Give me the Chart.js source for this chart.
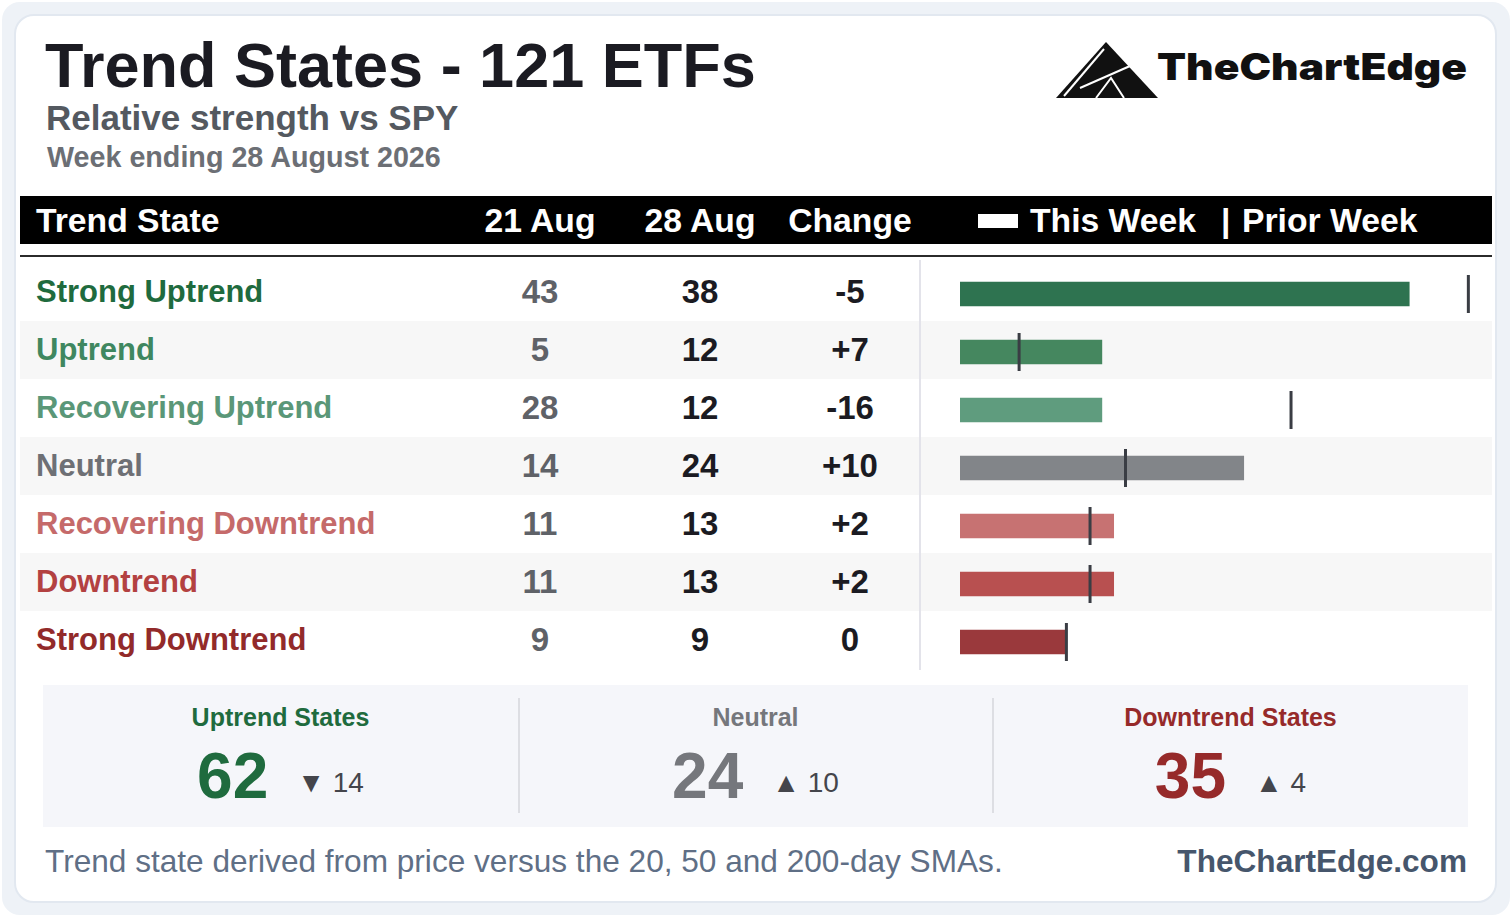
<!DOCTYPE html>
<html>
<head>
<meta charset="utf-8">
<title>Trend States - 121 ETFs</title>
<script src="https://cdn.jsdelivr.net/npm/chart.js@4.4.1/dist/chart.umd.min.js"></script>
<style>
    body { margin: 0; width: 1512px; height: 919px; background: #fff; position: relative; overflow: hidden;
           font-family: "Liberation Sans", Arial, sans-serif; }
    .abs { position: absolute; white-space: nowrap; }
    #frame { left: 2px; top: 2px; width: 1508px; height: 913px; background: #eef2f7; border-radius: 18px; }
    #card { left: 14px; top: 14px; width: 1483px; height: 889px; background: #fff; border: 2px solid #e2e8f0;
            border-radius: 20px; box-sizing: border-box; }
    .title { left: 45px; top: 34px; font-size: 63px; line-height: 63px; font-weight: 700; color: #1b1b22; }
    .subtitle { left: 46px; top: 100px; font-size: 35px; line-height: 35px; font-weight: 700; color: #545960; }
    .week { left: 47px; top: 143px; font-size: 28.7px; line-height: 28.7px; font-weight: 700; color: #6c6f75; }
    #head { left: 20px; top: 196px; width: 1472px; height: 48px; background: #000; }
    .hcell { top: 196px; font-size: 33.7px; line-height: 48px; font-weight: 700; color: #fff; }
    .ccell { width: 160px; text-align: center; }
    #legend-box { left: 978px; top: 214px; width: 40px; height: 14px; background: #fff; }
    #rule { left: 20px; top: 255px; width: 1472px; height: 2px; background: #2b2b2b; }
    .row { left: 20px; width: 1472px; height: 58px; }
    .row.alt { background: #f7f7f7; }
    .rcell { font-size: 31px; line-height: 58px; font-weight: 700; }
    .num { font-size: 33px; }
    #vsep { left: 919px; top: 260px; width: 2px; height: 410px; background: #e3e3ea; }
    #bars { left: 960px; top: 265px; width: 532px; height: 406px; }
    #summary { left: 43px; top: 685px; width: 1425px; height: 142px; background: #f5f6fa; }
    .sdiv { top: 698px; width: 2px; height: 115px; background: #dddee3; }
    .slabel { top: 705px; width: 475px; text-align: center; font-size: 25px; line-height: 25px; font-weight: 700; }
    .sval { top: 744px; width: 475px; height: 64px; display: flex; justify-content: center; align-items: baseline; }
    .sval .big { font-size: 64px; line-height: 64px; font-weight: 700; }
    .sval .delta { font-size: 28px; color: #44454b; margin-left: 29px; position: relative; top: -6px; }
    .foot { top: 846px; font-size: 31.6px; line-height: 31.6px; }
</style>
</head>
<body>
<div class="abs" id="frame"></div>
<div class="abs" id="card"></div>

<div class="abs title">Trend States - 121 ETFs</div>
<div class="abs subtitle">Relative strength vs SPY</div>
<div class="abs week">Week ending 28 August 2026</div>

<!-- logo -->
<svg class="abs" style="left:1040px;top:30px" width="440" height="80" viewBox="1040 30 440 80">
    <polygon points="1056,98 1106,42 1158,98" fill="#111"/>
    <line x1="1064" y1="96" x2="1104" y2="49" stroke="#fff" stroke-width="2"/>
    <line x1="1080" y1="88" x2="1130" y2="66" stroke="#fff" stroke-width="2"/>
    <polyline points="1096,98 1111,78 1124,98" fill="none" stroke="#fff" stroke-width="2"/>
    <text x="1157" y="80" font-family="Inter, 'Open Sans', sans-serif" font-weight="900" font-size="37"
          fill="#111" textLength="310" lengthAdjust="spacingAndGlyphs">TheChartEdge</text>
</svg>

<div class="abs" id="head"></div>
<div class="abs hcell" style="left:36px">Trend State</div>
<div class="abs hcell ccell" style="left:460px">21 Aug</div>
<div class="abs hcell ccell" style="left:620px">28 Aug</div>
<div class="abs hcell ccell" style="left:770px">Change</div>
<div class="abs" id="legend-box"></div>
<div class="abs hcell" style="left:1030px">This Week</div>
<div class="abs hcell" style="left:1221px">|</div>
<div class="abs hcell" style="left:1242px">Prior Week</div>
<div class="abs" id="rule"></div>

<div id="rows"></div>
<div class="abs" id="vsep"></div>
<div class="abs" id="bars"><canvas id="bar-chart" width="532" height="406"></canvas></div>

<div class="abs" id="summary"></div>
<div class="abs sdiv" style="left:518px"></div>
<div class="abs sdiv" style="left:992px"></div>
<div id="groups"></div>

<div class="abs foot" style="left:45px;color:#5f6f86">Trend state derived from price versus the 20, 50 and 200-day SMAs.</div>
<div class="abs foot" style="right:45px;color:#46566c;font-weight:700">TheChartEdge.com</div>

<script>
// Trend state counts, week of 21 Aug vs week of 28 Aug
const states = ["Strong Uptrend", "Uptrend", "Recovering Uptrend", "Neutral",
                "Recovering Downtrend", "Downtrend", "Strong Downtrend"];
const priorWeek = [43, 5, 28, 14, 11, 11, 9];
const thisWeek = [38, 12, 12, 24, 13, 13, 9];

const labelColors = ["#1f6b3e", "#3f8760", "#5a9778", "#6e7075", "#c56a6a", "#b34141", "#922a2a"];
const barColors = ["#2e7350", "#45875f", "#5f9c7e", "#828589", "#c77272", "#b85050", "#9a393c"];

// summary groups: which rows belong to each
const groupNames = ["Uptrend States", "Neutral", "Downtrend States"];
const groupRows = [[0, 1, 2], [3], [4, 5, 6]];
const groupColors = ["#1f6b3e", "#75777c", "#962a2a"];

const fmtChange = (d) => (d > 0 ? "+" + d : String(d));

// table rows
const rowsEl = document.getElementById("rows");
rowsEl.innerHTML = states.map((s, i) => {
    const top = 263 + i * 58;
    const d = thisWeek[i] - priorWeek[i];
    return `<div class="abs row${i % 2 ? " alt" : ""}" style="top:${top}px"></div>
        <div class="abs rcell" style="top:${top}px;left:36px;color:${labelColors[i]}">${s}</div>
        <div class="abs rcell num ccell" style="top:${top}px;left:460px;color:#5f6268">${priorWeek[i]}</div>
        <div class="abs rcell num ccell" style="top:${top}px;left:620px;color:#1b1b22">${thisWeek[i]}</div>
        <div class="abs rcell num ccell" style="top:${top}px;left:770px;color:#1b1b22">${fmtChange(d)}</div>`;
}).join("");

// summary boxes
const sum = (arr, idx) => idx.reduce((a, k) => a + arr[k], 0);
document.getElementById("groups").innerHTML = groupNames.map((g, i) => {
    const left = 43 + i * 475;
    const now = sum(thisWeek, groupRows[i]);
    const d = now - sum(priorWeek, groupRows[i]);
    const arrow = d < 0 ? "▼" : "▲";
    return `<div class="abs slabel" style="left:${left}px;color:${groupColors[i]}">${g}</div>
        <div class="abs sval" style="left:${left}px">
            <span class="big" style="color:${groupColors[i]}">${now}</span>
            <span class="delta">${arrow} ${Math.abs(d)}</span>
        </div>`;
}).join("");

// bars: this week as bars, prior week as tick markers
const ctx = document.getElementById("bar-chart").getContext("2d");
new Chart(ctx, {
    type: "bar",
    data: {
        labels: states,
        datasets: [
            {
                type: "scatter",
                label: "Prior Week",
                data: priorWeek.map((v, i) => ({ x: v, y: states[i] })),
                pointStyle: "line",
                rotation: 90,
                radius: 19,
                borderColor: "#3a3d44",
                borderWidth: 3,
                clip: false,
                order: 1
            },
            {
                label: "This Week",
                data: thisWeek,
                backgroundColor: barColors,
                barThickness: 24,
                order: 2
            }
        ]
    },
    options: {
        indexAxis: "y",
        responsive: false,
        animation: false,
        layout: { padding: 0, autoPadding: false },
        scales: {
            x: { type: "linear", min: 0, max: 45, display: false },
            y: { type: "category", display: false, offset: true }
        },
        plugins: {
            legend: { display: false },
            tooltip: { enabled: false }
        }
    }
});
</script>
</body>
</html>
